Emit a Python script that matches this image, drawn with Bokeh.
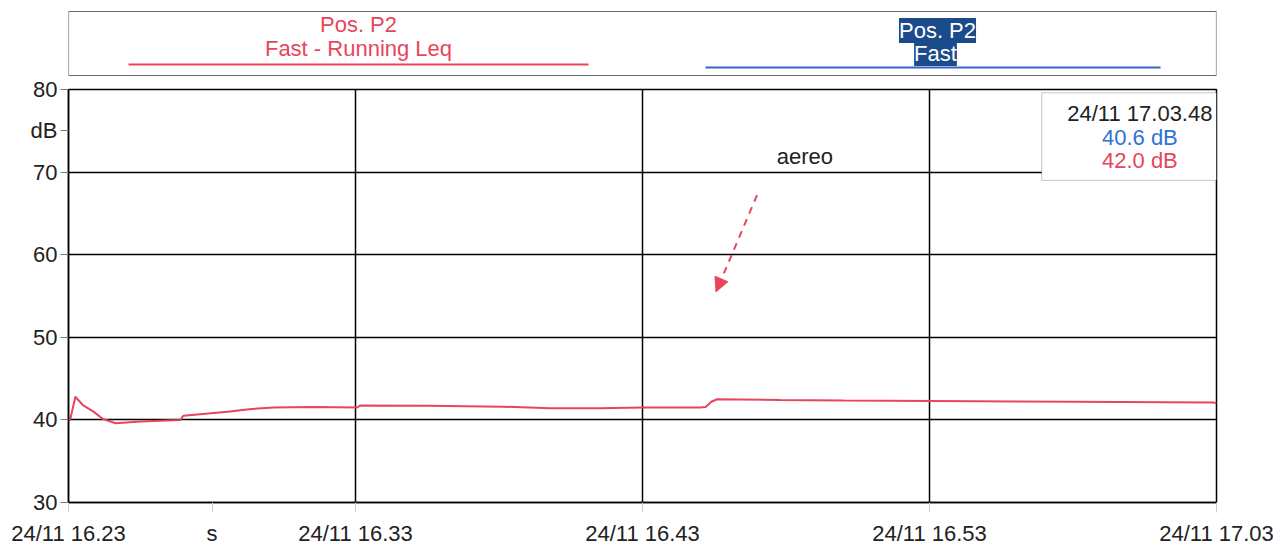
from bokeh.plotting import figure
from bokeh.layouts import column
from bokeh.models import Range1d, Label, BoxAnnotation, Arrow, NormalHead, FixedTicker
from bokeh.embed import file_html
from bokeh.resources import INLINE

# ---------------- data ----------------
# minutes after 24/11 16.23
leq_minutes = [0.05, 0.24, 0.50, 0.87, 1.20, 1.64, 2.51, 3.20, 3.90, 4.00, 5.54, 6.30,
               7.14, 8.50, 10.06, 10.17, 12.50, 15.15, 16.78, 18.50, 20.02, 22.01,
               22.20, 22.40, 22.60, 24.79, 27.00, 30.08, 35.00, 39.87, 40.0]
leq_db = [39.9, 42.8, 41.8, 41.0, 40.1, 39.6, 39.8, 39.9, 40.0, 40.5, 41.0, 41.3,
          41.5, 41.55, 41.5, 41.75, 41.7, 41.6, 41.4, 41.4, 41.5, 41.5,
          41.55, 42.2, 42.5, 42.4, 42.35, 42.3, 42.2, 42.1, 42.05]

x_ticks = [0, 10, 20, 30, 40]
x_tick_labels = ["24/11 16.23", "24/11 16.33", "24/11 16.43", "24/11 16.53", "24/11 17.03"]
y_ticks = [30, 40, 50, 60, 70, 80]

x_unit, x_unit_pos = "s", 5.0
y_unit, y_unit_pos = "dB", 75.0

series_pos = "Pos. P2"
series_leq = "Fast - Running Leq"
series_fast = "Fast"

readout_time = "24/11 17.03.48"
readout_fast = 40.6
readout_leq = 42.0

annotation_text = "aereo"

RED = "#e8455c"
BLUE = "#3a62c4"
BLUE_TXT = "#2f72d8"
HILITE = "#1c4b8c"
FONT = "Liberation Sans"
FS = "22px"

W = 1287
BL, BR = 68, 71

# ---------------- legend strip ----------------
LEG_H = 76
leg = figure(width=W, height=LEG_H, x_range=Range1d(68, 1216), y_range=Range1d(LEG_H, 0),
             output_backend="svg", toolbar_location=None,
             min_border_left=BL, min_border_right=BR, min_border_top=0, min_border_bottom=0)
leg.axis.visible = False
leg.grid.visible = False
leg.outline_line_color = None
leg.background_fill_color = "white"

leg.quad(left=[68], right=[1216], top=[11], bottom=[75], fill_color=None,
         line_color="#666666", line_width=1.2)
leg.line(x=[128, 588], y=[64, 64], line_color=RED, line_width=2)
leg.line(x=[705, 1160], y=[67, 67], line_color=BLUE, line_width=2)

leg.add_layout(Label(x=358, y=24, text=series_pos, text_align="center", text_baseline="middle",
                     text_color=RED, text_font=FONT, text_font_size=FS))
leg.add_layout(Label(x=358, y=48, text=series_leq, text_align="center", text_baseline="middle",
                     text_color=RED, text_font=FONT, text_font_size=FS))
leg.add_layout(Label(x=937, y=30, text=series_pos, text_align="center", text_baseline="middle",
                     text_color="white", text_font=FONT, text_font_size=FS,
                     background_fill_color=HILITE))
leg.add_layout(Label(x=935, y=53, text=series_fast, text_align="center", text_baseline="middle",
                     text_color="white", text_font=FONT, text_font_size=FS,
                     background_fill_color=HILITE))

# ---------------- main chart ----------------
MAIN_H = 548 - LEG_H
p = figure(width=W, height=MAIN_H, x_range=Range1d(0, 40), y_range=Range1d(30, 80),
           output_backend="svg", toolbar_location=None,
           min_border_left=BL, min_border_right=BR, min_border_top=13, min_border_bottom=45)
p.background_fill_color = "white"
p.outline_line_color = "black"
p.outline_line_width = 1.5

# axis ticks include the unit labels; grid uses only the real ticks
x_overrides = {t: lab for t, lab in zip(x_ticks, x_tick_labels)}
x_overrides[x_unit_pos] = x_unit
p.xaxis.ticker = FixedTicker(ticks=sorted(x_ticks + [x_unit_pos]))
p.xaxis.major_label_overrides = x_overrides
p.yaxis.ticker = FixedTicker(ticks=sorted(y_ticks + [y_unit_pos]))
p.yaxis.major_label_overrides = {y_unit_pos: y_unit}
p.xgrid.ticker = FixedTicker(ticks=x_ticks)
p.ygrid.ticker = FixedTicker(ticks=y_ticks)

for ax in (p.xaxis[0], p.yaxis[0]):
    ax.major_label_text_font = FONT
    ax.major_label_text_font_size = FS
    ax.major_label_text_color = "#222222"
    ax.minor_tick_line_color = None
    ax.axis_line_color = "black"
    ax.axis_line_width = 1.5
    ax.major_tick_in = 0
p.xaxis.major_tick_out = 10
p.xaxis.major_tick_line_color = "#cccccc"
p.xaxis.major_label_standoff = 8
p.yaxis.major_tick_out = 8
p.yaxis.major_tick_line_color = "#777777"
p.yaxis.major_label_standoff = 3

p.grid.grid_line_color = "black"
p.grid.grid_line_width = 1.5

p.line(leq_minutes, leq_db, line_color=RED, line_width=2)

# readout box
p.add_layout(BoxAnnotation(left=33.91, right=40, top=79.6, bottom=69.0,
                           fill_color="white", fill_alpha=1.0, line_color="#444444", line_width=1))
p.add_layout(Label(x=37.33, y=77.1, text=readout_time, text_align="center", text_baseline="middle",
                   text_color="#222222", text_font=FONT, text_font_size=FS))
p.add_layout(Label(x=37.33, y=74.2, text=f"{readout_fast:.1f} dB", text_align="center",
                   text_baseline="middle", text_color=BLUE_TXT, text_font=FONT, text_font_size=FS))
p.add_layout(Label(x=37.33, y=71.4, text=f"{readout_leq:.1f} dB", text_align="center",
                   text_baseline="middle", text_color=RED, text_font=FONT, text_font_size=FS))

# annotation
p.add_layout(Label(x=25.66, y=71.9, text=annotation_text, text_align="center", text_baseline="middle",
                   text_color="#222222", text_font=FONT, text_font_size=FS))
p.add_layout(Arrow(x_start=23.99, y_start=67.2, x_end=22.56, y_end=55.5,
                   line_color=RED, line_width=2, line_dash="7 6",
                   end=NormalHead(size=14, fill_color=RED, line_color=RED)))

layout = column(leg, p, spacing=0)
open("out.html", "w").write(file_html(layout, INLINE))
